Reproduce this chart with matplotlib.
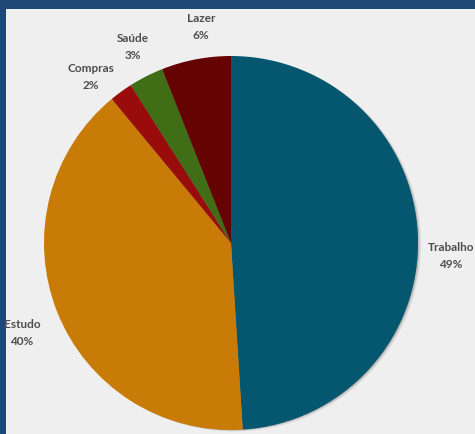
import matplotlib.pyplot as plt
from matplotlib.patches import Circle

# tempo gasto por atividade (%)
atividades = ['Trabalho', 'Estudo', 'Compras', 'Saúde', 'Lazer']
percentuais = [49, 40, 2, 3, 6]
cores = ['#05566F', '#C97B08', '#9A0C0C', '#3F6E16', '#650202']

rotulos = [a + '\n' + str(p) + '%' for a, p in zip(atividades, percentuais)]

# posição dos rótulos (coordenadas do eixo)
pos_rotulos = [(451, 179), (22, 102), (91, 358), (133, 388), (201, 408)]

fig = plt.figure(figsize=(4.75, 4.35), dpi=100, facecolor='#1D4876')
ax = fig.add_axes([6 / 475, 0, 469 / 475, 425 / 435], facecolor='#EFEFEF')

centro = (231, 191)
raio = 187

# sombra suave do lado direito
for i, a in enumerate([0.08, 0.15, 0.30]):
    ax.add_patch(Circle((centro[0] + 3 - i, centro[1] - 1.5 + i * 0.5), raio - 0.5 * i,
                        color='black', alpha=a, linewidth=0, zorder=0))

cunhas, textos = ax.pie(percentuais, labels=rotulos, colors=cores, startangle=90,
                        counterclock=False, center=centro, radius=raio,
                        frame=True, wedgeprops={'linewidth': 0},
                        textprops={'fontsize': 8.5, 'color': '#4d4d4d',
                                   'family': 'Lato', 'fontweight': 'bold',
                                   'ha': 'center', 'va': 'center',
                                   'linespacing': 1.6})
for w in cunhas:
    w.set_zorder(1)
for t, p in zip(textos, pos_rotulos):
    t.set_position(p)

ax.set_aspect('auto')
ax.set_xlim(6, 475)
ax.set_ylim(0, 425)
ax.set_xticks([])
ax.set_yticks([])
for s in ax.spines.values():
    s.set_visible(False)

fig.savefig('out.png', dpi=100, facecolor=fig.get_facecolor())
